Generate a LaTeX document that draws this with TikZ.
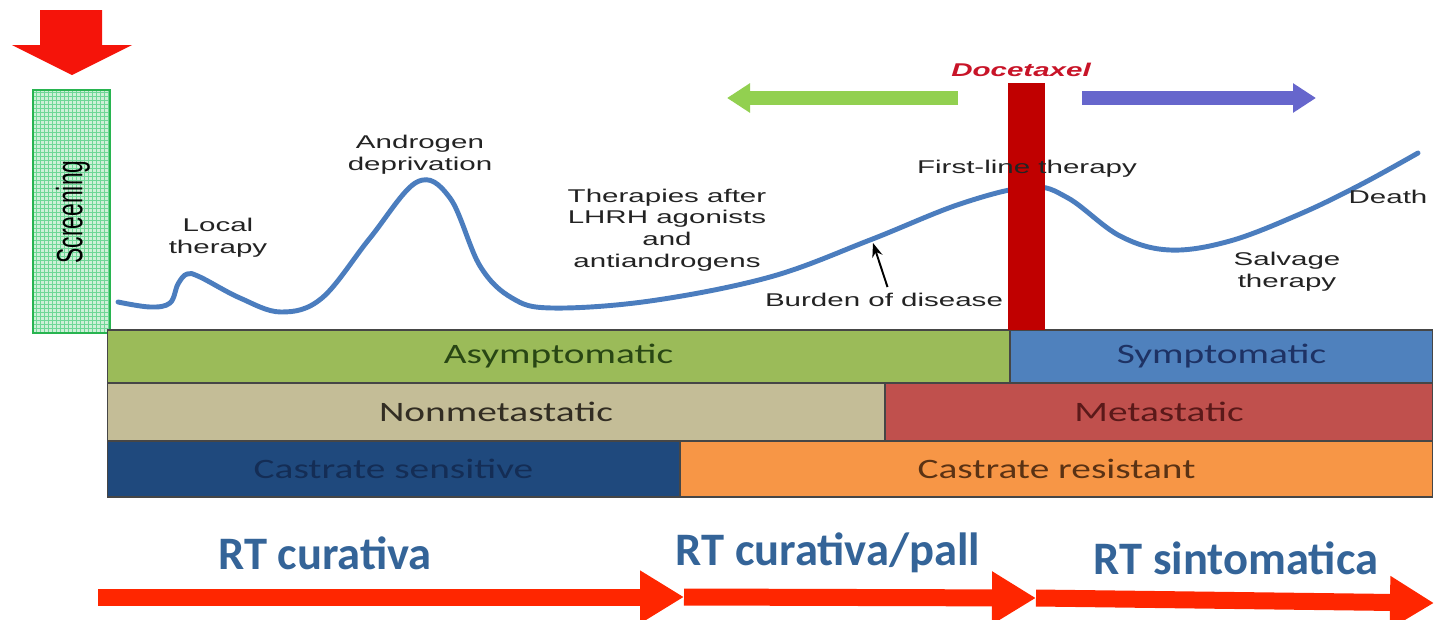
\documentclass[tikz,border=0pt]{standalone}
\usepackage{fontspec}
\setmainfont{Liberation Sans}
\newfontfamily\lblfont[FakeStretch=1.6]{Liberation Sans}
\newfontfamily\bandfont[FakeStretch=1.4]{Carlito}
\newfontfamily\rtfont{Carlito}
\usetikzlibrary{arrows.meta}

\definecolor{scrred}{RGB}{245,20,10}
\definecolor{rtred}{RGB}{255,38,0}
\definecolor{barred}{RGB}{192,0,0}
\definecolor{docetxt}{RGB}{200,20,40}
\definecolor{scrfill}{RGB}{205,240,215}
\definecolor{scrgrid}{RGB}{110,215,150}
\definecolor{scrline}{RGB}{40,180,80}
\definecolor{curvecol}{RGB}{75,125,190}
\definecolor{lbltext}{RGB}{35,35,35}
\definecolor{greenarr}{RGB}{146,208,80}
\definecolor{bluearr}{RGB}{102,102,204}
\definecolor{asymcol}{RGB}{155,187,89}
\definecolor{symcol}{RGB}{79,129,189}
\definecolor{nonmetcol}{RGB}{196,189,151}
\definecolor{metcol}{RGB}{192,80,77}
\definecolor{cscol}{RGB}{31,73,125}
\definecolor{crcol}{RGB}{247,150,70}
\definecolor{bandline}{RGB}{70,70,70}
\definecolor{rttext}{RGB}{52,100,152}

\begin{document}
\begin{tikzpicture}[x=0.02cm,y=-0.02cm,>=Stealth,
  every node/.style={font=\lblfont\fontsize{10.5}{12.4}\selectfont,text=lbltext,align=center},
  band/.style={draw=bandline,line width=0.6pt,inner sep=0pt,font=\bandfont\fontsize{16}{18}\selectfont},
  fatarrow/.style={line width=0.28cm,-{Triangle[length=0.46cm,width=0.56cm]}},
  rtarrow/.style={rtred,line width=0.34cm,-{Triangle[length=0.88cm,width=1cm]}},
  rtlabel/.style={font=\rtfont\bfseries\fontsize{26.5}{30}\selectfont,text=rttext}]

\useasboundingbox (0,0) rectangle (1434,619);

% screening
\fill[scrred] (40,10) -- (102,10) -- (102,45) -- (132,45) -- (72,75) -- (12,45) -- (40,45) -- cycle;
\fill[scrfill] (33,90) rectangle (110,333);
\draw[scrgrid,line width=0.3pt,step=0.08cm] (33,90) grid (110,333);
\draw[scrline,line width=1.4pt] (33,90) rectangle (110,333);
\node[font=\fontsize{13}{15}\selectfont,text=black] (screening) at (73,212)
  {\scalebox{1.6}[1]{\rotatebox{90}{Screening}}};

% stage bands
\node[band,fill=asymcol,minimum width=18.06cm,minimum height=1.06cm,text={rgb,255:red,40;green,70;blue,20}] (asym) at (558.5,356.5) {Asymptomatic};
\node[band,fill=symcol,minimum width=8.46cm,minimum height=1.06cm,text={rgb,255:red,30;green,50;blue,100}] (sym) at (1221.5,356.5) {Symptomatic};
\node[band,fill=nonmetcol,minimum width=15.56cm,minimum height=1.16cm,text={rgb,255:red,50;green,45;blue,35}] (nonmet) at (496,412) {Nonmetastatic};
\node[band,fill=metcol,minimum width=10.96cm,minimum height=1.16cm,text={rgb,255:red,90;green,25;blue,25}] (met) at (1159,412) {Metastatic};
\node[band,fill=cscol,minimum width=11.46cm,minimum height=1.12cm,text={rgb,255:red,20;green,45;blue,85}] (cs) at (393.5,469) {Castrate sensitive};
\node[band,fill=crcol,minimum width=15.06cm,minimum height=1.12cm,text={rgb,255:red,90;green,50;blue,20}] (cr) at (1056.5,469) {Castrate resistant};

% burden of disease
\draw[curvecol,line width=2.8pt,line cap=round] plot[smooth,tension=0.6] coordinates {
  (118,302) (150,307) (170,303) (178,284) (187,274) (200,277) (240,298) (281,312)
  (322,298) (370,238) (417,182) (450,198) (480,266) (512,298) (552,308) (650,301)
  (770,277) (870,240) (960,204) (1030,187) (1068,198) (1120,236) (1170,250)
  (1230,241) (1300,214) (1360,185) (1418,153)};

\fill[barred] (1008,83) rectangle (1045,330);

\node (docetaxel) at (1021,70) {\color{docetxt}\bfseries\itshape Docetaxel};
\coordinate (gs) at (958,98);
\coordinate (ge) at (727,98);
\coordinate (bs) at (1082,98);
\coordinate (be) at (1316,98);
\draw[greenarr,fatarrow] (gs) -- (ge);
\draw[bluearr,fatarrow] (bs) -- (be);

\node (local) at (218,238) {Local\\therapy};
\node (androgen) at (420,155) {Androgen\\deprivation};
\node (after) at (667,230) {Therapies after\\LHRH agonists\\and\\antiandrogens};
\node (burden) at (884,300) {Burden of disease};
\node (firstline) at (1027,169) {First-line therapy};
\node (death) at (1388,197) {Death};
\node (salvage) at (1287,272) {Salvage\\therapy};
\coordinate (bod) at (873,243);
\draw[->,line width=1.1pt] ([xshift=0.07cm]burden.north) -- (bod);

% radiotherapy
\node[rtlabel] (rtcur) at (325,553) {RT curativa};
\node[rtlabel] (rtpall) at (828,553) {RT curativa/pall};
\node[rtlabel] (rtsint) at (1236,558) {RT sintomatica};
\coordinate (r0) at (98,597);
\coordinate (r1) at (684,597);
\coordinate (r2) at (1036,598);
\coordinate (r3) at (1434,603);
\draw[rtarrow] (r0) -- (r1);
\draw[rtarrow] (r1) -- (r2);
\draw[rtarrow] (r2) -- (r3);

\end{tikzpicture}
\end{document}
